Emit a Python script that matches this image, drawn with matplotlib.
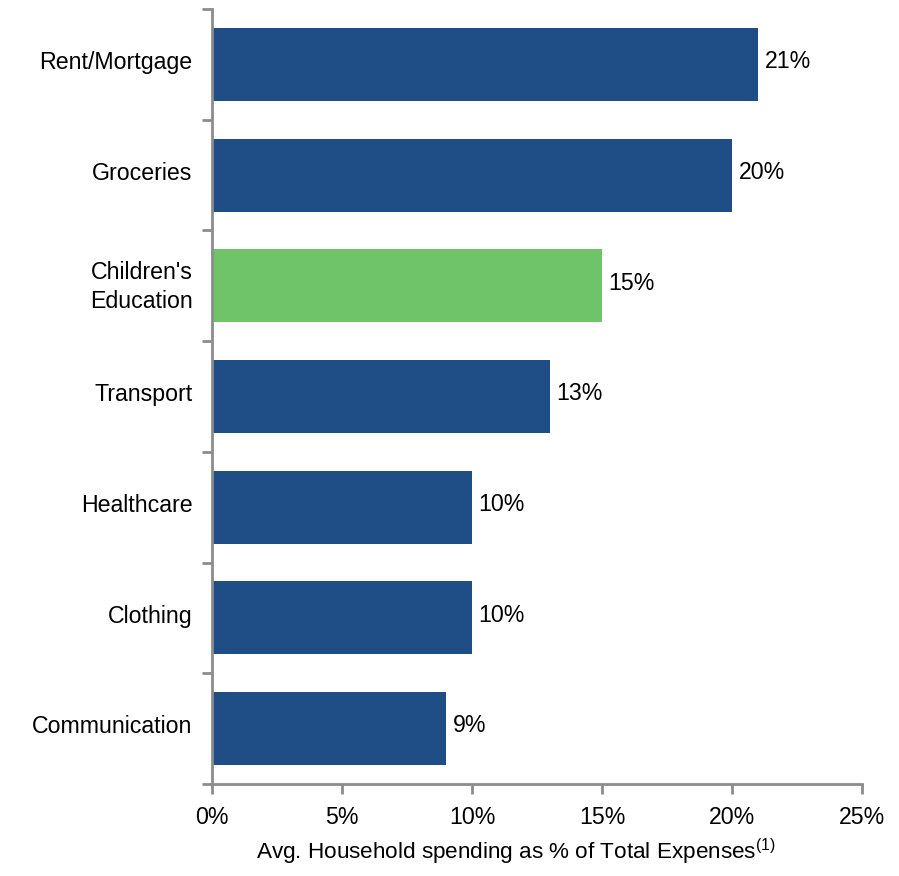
import numpy as np
import matplotlib
matplotlib.use("Agg")
import matplotlib.pyplot as plt
import matplotlib.transforms as mtransforms
from matplotlib.ticker import FuncFormatter

plt.rcParams['font.family'] = ['Liberation Sans', 'DejaVu Sans']
plt.rcParams['mathtext.fontset'] = 'custom'
plt.rcParams['mathtext.rm'] = 'Liberation Sans'
plt.rcParams['mathtext.it'] = 'Liberation Sans'

# spending categories, top to bottom
categories = ["Rent/Mortgage", "Groceries", "Children's\nEducation", "Transport",
              "Healthcare", "Clothing", "Communication"]
shares = [21, 20, 15, 13, 10, 10, 9]
highlight = "Children's\nEducation"
x_ticks = [0, 5, 10, 15, 20, 25]

blue = "#1F4E87"
green = "#6FC46A"
axis_grey = "#8C8C8C"
fs = 16.7

fig = plt.figure(figsize=(8.99, 8.76), dpi=100)
ax = fig.add_axes([0.2358, 0.105, 0.7231, 0.8847])

pos = np.arange(len(categories))[::-1]
colors = [green if c == highlight else blue for c in categories]
ax.barh(pos, shares, height=0.66, color=colors)

# value labels sit a touch above the bar centre
lift = mtransforms.ScaledTranslation(0, 2 / 72, fig.dpi_scale_trans)
for p, v in zip(pos, shares):
    ax.text(v + 0.25, p, "%d%%" % v, va='center', ha='left', fontsize=fs,
            color='black', transform=ax.transData + lift)

ax.set_xlim(0, 25)
ax.set_ylim(-0.5, len(categories) - 0.5)
ax.set_xticks(x_ticks)
ax.xaxis.set_major_formatter(FuncFormatter(lambda x, _: "%d%%" % x))

# labels centred on bars, tick marks between categories
ax.set_yticks(pos)
ax.set_yticklabels(categories, linespacing=1.35)
ax.set_yticks(np.arange(len(categories) + 1) - 0.5, minor=True)
ax.tick_params(axis='y', which='major', length=0, pad=14, labelsize=fs)
ax.tick_params(axis='y', which='minor', length=7, width=2, color=axis_grey)
ax.tick_params(axis='x', length=7, width=2, color=axis_grey, labelsize=fs, pad=9)

label_lift = mtransforms.ScaledTranslation(0, 3 / 72, fig.dpi_scale_trans)
for lbl in ax.get_yticklabels():
    lbl.set_transform(lbl.get_transform() + label_lift)

for side in ['top', 'right']:
    ax.spines[side].set_visible(False)
for side in ['left', 'bottom']:
    ax.spines[side].set_color(axis_grey)
    ax.spines[side].set_linewidth(2)

ax.set_xlabel(r"Avg. Household spending as % of Total Expenses$^{(1)}$", fontsize=16.2)
ax.xaxis.set_label_coords(0.468, -0.068)

fig.savefig("out.png", dpi=100)
